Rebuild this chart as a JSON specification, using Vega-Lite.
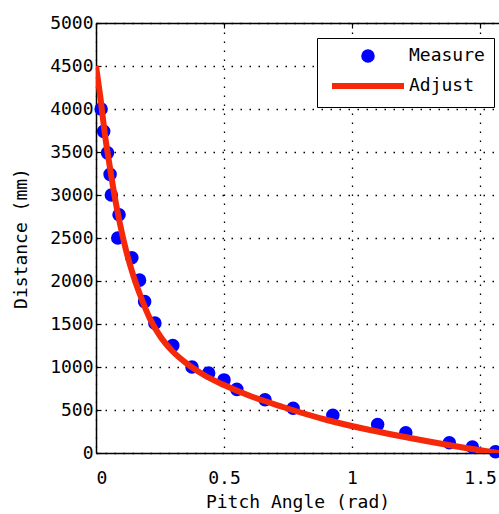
{
  "$schema": "https://vega.github.io/schema/vega-lite/v6.json",
  "width": 403,
  "height": 430,
  "autosize": "none",
  "padding": {"left": 96, "top": 23, "right": 0, "bottom": 61},
  "background": "white",
  "config": {
    "view": {"stroke": null},
    "font": "DejaVu Sans Mono",
    "axis": {
      "labelFont": "DejaVu Sans Mono",
      "labelFontSize": 18,
      "labelColor": "black",
      "titleFont": "DejaVu Sans Mono",
      "titleFontSize": 18,
      "titleFontWeight": "normal",
      "titleColor": "black",
      "domainColor": "black",
      "domainWidth": 1.5,
      "tickColor": "black",
      "tickSize": -5,
      "tickWidth": 1.2,
      "gridColor": "black",
      "gridOpacity": 1,
      "gridDash": [1.5, 7.5],
      "gridWidth": 1.3
    },
    "legend": {
      "orient": "none", "legendX": 221, "legendY": 15,
      "strokeColor": "black", "fillColor": "white",
      "padding": 9,
      "labelFont": "DejaVu Sans Mono", "labelFontSize": 18, "labelColor": "black",
      "labelOffset": 23,
      "symbolOffset": 24,
      "rowPadding": 2
    }
  },
  "datasets": {
    "measure": [
      {"angle": 0.02, "distance": 4000, "series": "Measure"},
      {"angle": 0.03, "distance": 3740, "series": "Measure"},
      {"angle": 0.045, "distance": 3490, "series": "Measure"},
      {"angle": 0.055, "distance": 3240, "series": "Measure"},
      {"angle": 0.06, "distance": 3000, "series": "Measure"},
      {"angle": 0.09, "distance": 2770, "series": "Measure"},
      {"angle": 0.085, "distance": 2500, "series": "Measure"},
      {"angle": 0.14, "distance": 2270, "series": "Measure"},
      {"angle": 0.17, "distance": 2010, "series": "Measure"},
      {"angle": 0.19, "distance": 1760, "series": "Measure"},
      {"angle": 0.23, "distance": 1510, "series": "Measure"},
      {"angle": 0.3, "distance": 1250, "series": "Measure"},
      {"angle": 0.375, "distance": 1000, "series": "Measure"},
      {"angle": 0.44, "distance": 930, "series": "Measure"},
      {"angle": 0.5, "distance": 850, "series": "Measure"},
      {"angle": 0.55, "distance": 740, "series": "Measure"},
      {"angle": 0.66, "distance": 620, "series": "Measure"},
      {"angle": 0.77, "distance": 520, "series": "Measure"},
      {"angle": 0.925, "distance": 440, "series": "Measure"},
      {"angle": 1.1, "distance": 330, "series": "Measure"},
      {"angle": 1.21, "distance": 235, "series": "Measure"},
      {"angle": 1.38, "distance": 120, "series": "Measure"},
      {"angle": 1.47, "distance": 70, "series": "Measure"},
      {"angle": 1.56, "distance": 15, "series": "Measure"}
    ],
    "adjust": [
      {"angle": 0, "distance": 4500, "series": "Adjust"},
      {"angle": 0.016, "distance": 4160, "series": "Adjust"},
      {"angle": 0.035, "distance": 3700, "series": "Adjust"},
      {"angle": 0.055, "distance": 3310, "series": "Adjust"},
      {"angle": 0.074, "distance": 2965, "series": "Adjust"},
      {"angle": 0.094, "distance": 2660, "series": "Adjust"},
      {"angle": 0.117, "distance": 2360, "series": "Adjust"},
      {"angle": 0.145, "distance": 2070, "series": "Adjust"},
      {"angle": 0.172, "distance": 1840, "series": "Adjust"},
      {"angle": 0.211, "distance": 1560, "series": "Adjust"},
      {"angle": 0.25, "distance": 1360, "series": "Adjust"},
      {"angle": 0.3, "distance": 1180, "series": "Adjust"},
      {"angle": 0.35, "distance": 1050, "series": "Adjust"},
      {"angle": 0.42, "distance": 910, "series": "Adjust"},
      {"angle": 0.5, "distance": 790, "series": "Adjust"},
      {"angle": 0.6, "distance": 665, "series": "Adjust"},
      {"angle": 0.73, "distance": 535, "series": "Adjust"},
      {"angle": 0.902, "distance": 384, "series": "Adjust"},
      {"angle": 1.07, "distance": 267, "series": "Adjust"},
      {"angle": 1.227, "distance": 174, "series": "Adjust"},
      {"angle": 1.422, "distance": 70, "series": "Adjust"},
      {"angle": 1.574, "distance": 0, "series": "Adjust"}
    ]
  },
  "layer": [
    {
      "data": {"name": "measure"},
      "mark": {"type": "point", "filled": true, "opacity": 1},
      "encoding": {
        "x": {
          "field": "angle", "type": "quantitative",
          "scale": {"domain": [0, 1.574], "nice": false, "zero": false},
          "axis": {"values": [0, 0.5, 1, 1.5], "format": "~g", "title": "Pitch Angle (rad)", "ticks": false, "tickSize": 0, "labelPadding": 16, "titlePadding": 6, "grid": true}
        },
        "y": {
          "field": "distance", "type": "quantitative",
          "scale": {"domain": [0, 5000], "nice": false},
          "axis": {"values": [0,500,1000,1500,2000,2500,3000,3500,4000,4500,5000], "format": "d", "title": "Distance (mm)", "labelPadding": 8, "titlePadding": 19, "grid": true}
        },
        "color": {
          "field": "series", "type": "nominal", "title": null,
          "scale": {"domain": ["Measure", "Adjust"], "range": ["#0000ff", "#f5280a"]}
        },
        "stroke": {
          "field": "series", "type": "nominal", "title": null,
          "scale": {"domain": ["Measure", "Adjust"], "range": ["#0000ff", "#f5280a"]}
        },
        "shape": {
          "field": "series", "type": "nominal", "title": null,
          "scale": {"domain": ["Measure", "Adjust"], "range": ["circle", "M-2.4,0H2.4"]}
        },
        "size": {
          "field": "series", "type": "nominal", "title": null,
          "scale": {"domain": ["Measure", "Adjust"], "range": [133, 900]}
        },
        "strokeWidth": {
          "field": "series", "type": "nominal", "title": null,
          "scale": {"domain": ["Measure", "Adjust"], "range": [2, 6]}
        }
      }
    },
    {
      "data": {"name": "adjust"},
      "mark": {"type": "line", "strokeWidth": 6, "interpolate": "monotone", "clip": true},
      "encoding": {
        "x": {"field": "angle", "type": "quantitative",
          "axis": {"orient": "top", "values": [0, 0.5, 1, 1.5], "labels": false, "title": null, "grid": false}},
        "y": {"field": "distance", "type": "quantitative"},
        "color": {"field": "series", "type": "nominal", "title": null}
      }
    }
  ],
  "resolve": {"axis": {"x": "independent"}}
}
